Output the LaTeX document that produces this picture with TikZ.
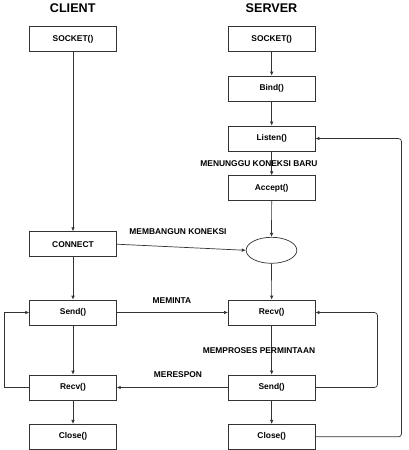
\documentclass[tikz,border=0pt]{standalone}
\usepackage{fontspec}
\setmainfont{Liberation Sans}
\usetikzlibrary{arrows.meta,shapes.geometric}
\begin{document}
\begin{tikzpicture}[x=1pt,y=-1pt,
  box/.style={draw=black!80,line width=0.7pt,minimum width=86.7pt,minimum height=25pt,inner sep=0pt,font=\fontsize{8.4}{10}\selectfont\bfseries},
  hdr/.style={font=\fontsize{12.6}{14}\selectfont\bfseries,inner sep=0pt},
  lbl/.style={font=\fontsize{8.4}{10}\selectfont\bfseries,inner sep=0pt,fill=white},
  conn/.style={draw=black!80,line width=0.7pt,-{Latex[length=4pt,width=3.6pt]}}]
\useasboundingbox (0,0) rectangle (408,450);
\fill[white] (0,0) rectangle (408,450);
\node[hdr] (cl) at (72.7,8) {CLIENT};
\node[hdr] (sv) at (271.5,8) {SERVER};
\node[box] (cs) at (73,39.3) {SOCKET()};
\node[box] (ss) at (271.7,39.3) {SOCKET()};
\node[box] (bind) at (271.7,88.5) {Bind()};
\node[box] (listen) at (271.7,138.5) {Listen()};
\node[box] (accept) at (271.7,188.2) {Accept()};
\node[ellipse,draw=black!80,line width=0.7pt,minimum width=50.7pt,minimum height=26pt,inner sep=0pt] (el) at (271.5,250.3) {};
\node[box] (cconn) at (73,244.2) {CONNECT};
\node[box] (csend) at (73,312.5) {Send()};
\node[box] (srecv) at (271.7,312.5) {Recv()};
\node[box] (crecv) at (73,387.5) {Recv()};
\node[box] (ssend) at (271.7,387.5) {Send()};
\node[box] (cclose) at (73,436.8) {Close()};
\node[box] (sclose) at (271.7,436.8) {Close()};
% client column
\draw[conn] (cs) -- (cconn);
\draw[conn] (cconn) -- (csend);
\draw[conn] (csend) -- (crecv);
\draw[conn] (crecv) -- (cclose);
% server column
\draw[conn] (ss) -- (bind);
\draw[conn] (bind) -- (listen);
\draw[conn] (listen) -- (accept);
\draw[conn] (accept) -- (el);
\draw[conn] (el) -- (srecv);
\draw[conn] (srecv) -- (ssend);
\draw[conn] (ssend) -- (sclose);
% cross
\draw[conn] (cconn.east) -- (el.west);
\draw[conn] (csend) -- (srecv);
\draw[conn] (ssend) -- (crecv);
% loops
\coordinate (lx) at (4.3,387.5);
\draw[conn] (crecv.west) -- (lx) |- (csend.west);
\coordinate (rx) at (377.5,387.5);
\draw[conn,rounded corners=3pt] (ssend.east) -- (rx) |- (srecv.east);
\coordinate (ox) at (401.5,436.8);
\draw[conn,rounded corners=3pt] (sclose.east) -- (ox) |- (listen.east);
% labels
\node[lbl,fill=none] (l1) at (259,164) {MENUNGGU KONEKSI BARU};
\node[lbl,fill=none] (l2) at (178,232) {MEMBANGUN KONEKSI};
\node[lbl,fill=none] (l3) at (172,300.5) {MEMINTA};
\node[lbl,fill=none] (l4) at (259,351) {MEMPROSES PERMINTAAN};
\node[lbl,fill=none] (l5) at (178,375) {MERESPON};
\end{tikzpicture}
\end{document}
